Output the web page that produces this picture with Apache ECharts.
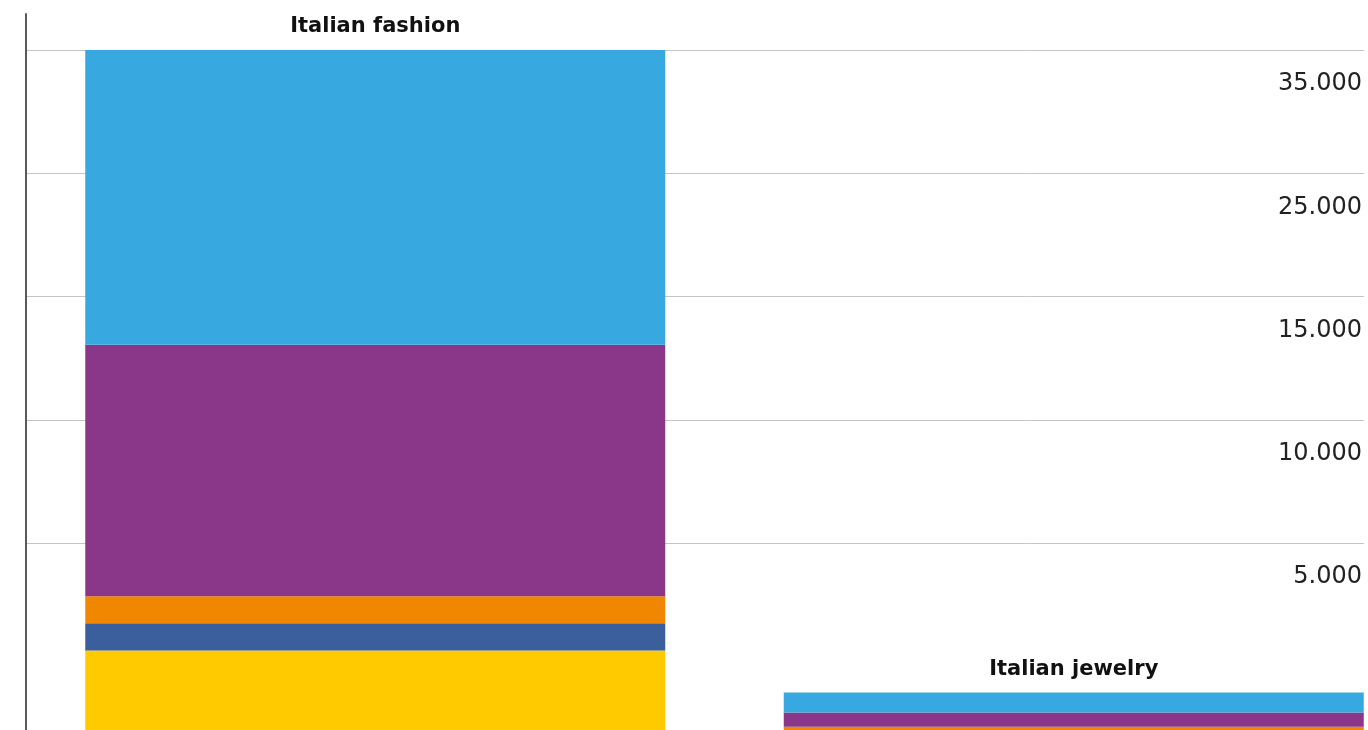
<!DOCTYPE html>
<html>
<head>
<meta charset="utf-8">
<script src="https://cdn.jsdelivr.net/npm/echarts@6/dist/echarts.min.js"></script>
<style>
  html, body { margin: 0; padding: 0; background: #ffffff; overflow: hidden; width: 1368px; height: 730px; }
  #chart { width: 1423px; height: 913px; }
</style>
</head>
<body>
<div id="chart"></div>
<script>
// Categories shown as titles above each stacked column
const categories = ['Italian fashion', 'Italian jewelry'];

// Stack segments, bottom to top
const seriesNames = ['Segment 1', 'Segment 2', 'Segment 3', 'Segment 4', 'Segment 5'];
const yellowValues = [10650, 6400];
const darkBlueValues = [1100, 600];
const orangeValues = [1100, 550];
const purpleValues = [10200, 580];
const lightBlueValues = [11950, 810];

// Horizontal reference lines and their printed labels
const tickValues = [15000, 20000, 25000, 30000, 35000];
const tickLabels = ['5.000', '10.000', '15.000', '25.000', '35.000'];

const segmentValues = [yellowValues, darkBlueValues, orangeValues, purpleValues, lightBlueValues];
const segmentColors = ['#ffcb00', '#3b5e9d', '#f18700', '#8b3789', '#38a8e0'];

const Y_MAX = 36460;

const chart = echarts.init(document.getElementById('chart'), null, { renderer: 'canvas' });

const series = segmentValues.map((vals, si) => ({
  name: seriesNames[si],
  type: 'bar',
  stack: 'total',
  xAxisIndex: 0,
  yAxisIndex: 0,
  barWidth: 580,
  itemStyle: { color: segmentColors[si] },
  data: vals,
  label: si === segmentValues.length - 1 ? {
    show: true,
    position: 'top',
    distance: 13,
    formatter: p => categories[p.dataIndex],
    fontFamily: 'DejaVu Sans',
    fontWeight: 'bold',
    fontSize: 21,
    color: '#111111'
  } : { show: false },
  emphasis: { disabled: true }
}));

chart.setOption({
  animation: false,
  backgroundColor: '#ffffff',
  grid: [
    // columns
    { left: 26, right: 0, top: 14, bottom: 0, containLabel: false },
    // reference lines and their labels
    { left: 26, right: 59, top: 14, bottom: 0, containLabel: false }
  ],
  xAxis: [
    { type: 'category', gridIndex: 0, data: categories, show: false },
    { type: 'value', gridIndex: 1, min: 0, max: 1, show: false }
  ],
  yAxis: [
    {
      type: 'value',
      gridIndex: 0,
      position: 'left',
      min: 0,
      max: Y_MAX,
      axisLine: { show: true, lineStyle: { color: '#5a5a5a', width: 2 } },
      axisTick: { show: false },
      axisLabel: { show: false },
      splitLine: { show: false }
    },
    {
      type: 'value',
      gridIndex: 1,
      position: 'right',
      min: 0,
      max: Y_MAX,
      axisLine: { show: false },
      axisTick: { show: false, customValues: tickValues },
      axisLabel: {
        inside: true,
        customValues: tickValues,
        formatter: v => tickLabels[tickValues.indexOf(v)] || '',
        verticalAlign: 'top',
        padding: [22, 0, 0, 0],
        margin: 2,
        fontFamily: 'DejaVu Sans',
        fontSize: 24,
        color: '#222222'
      },
      splitLine: { show: true, lineStyle: { color: '#c4c4c4', width: 1 } }
    }
  ],
  series: series
});
</script>
</body>
</html>
